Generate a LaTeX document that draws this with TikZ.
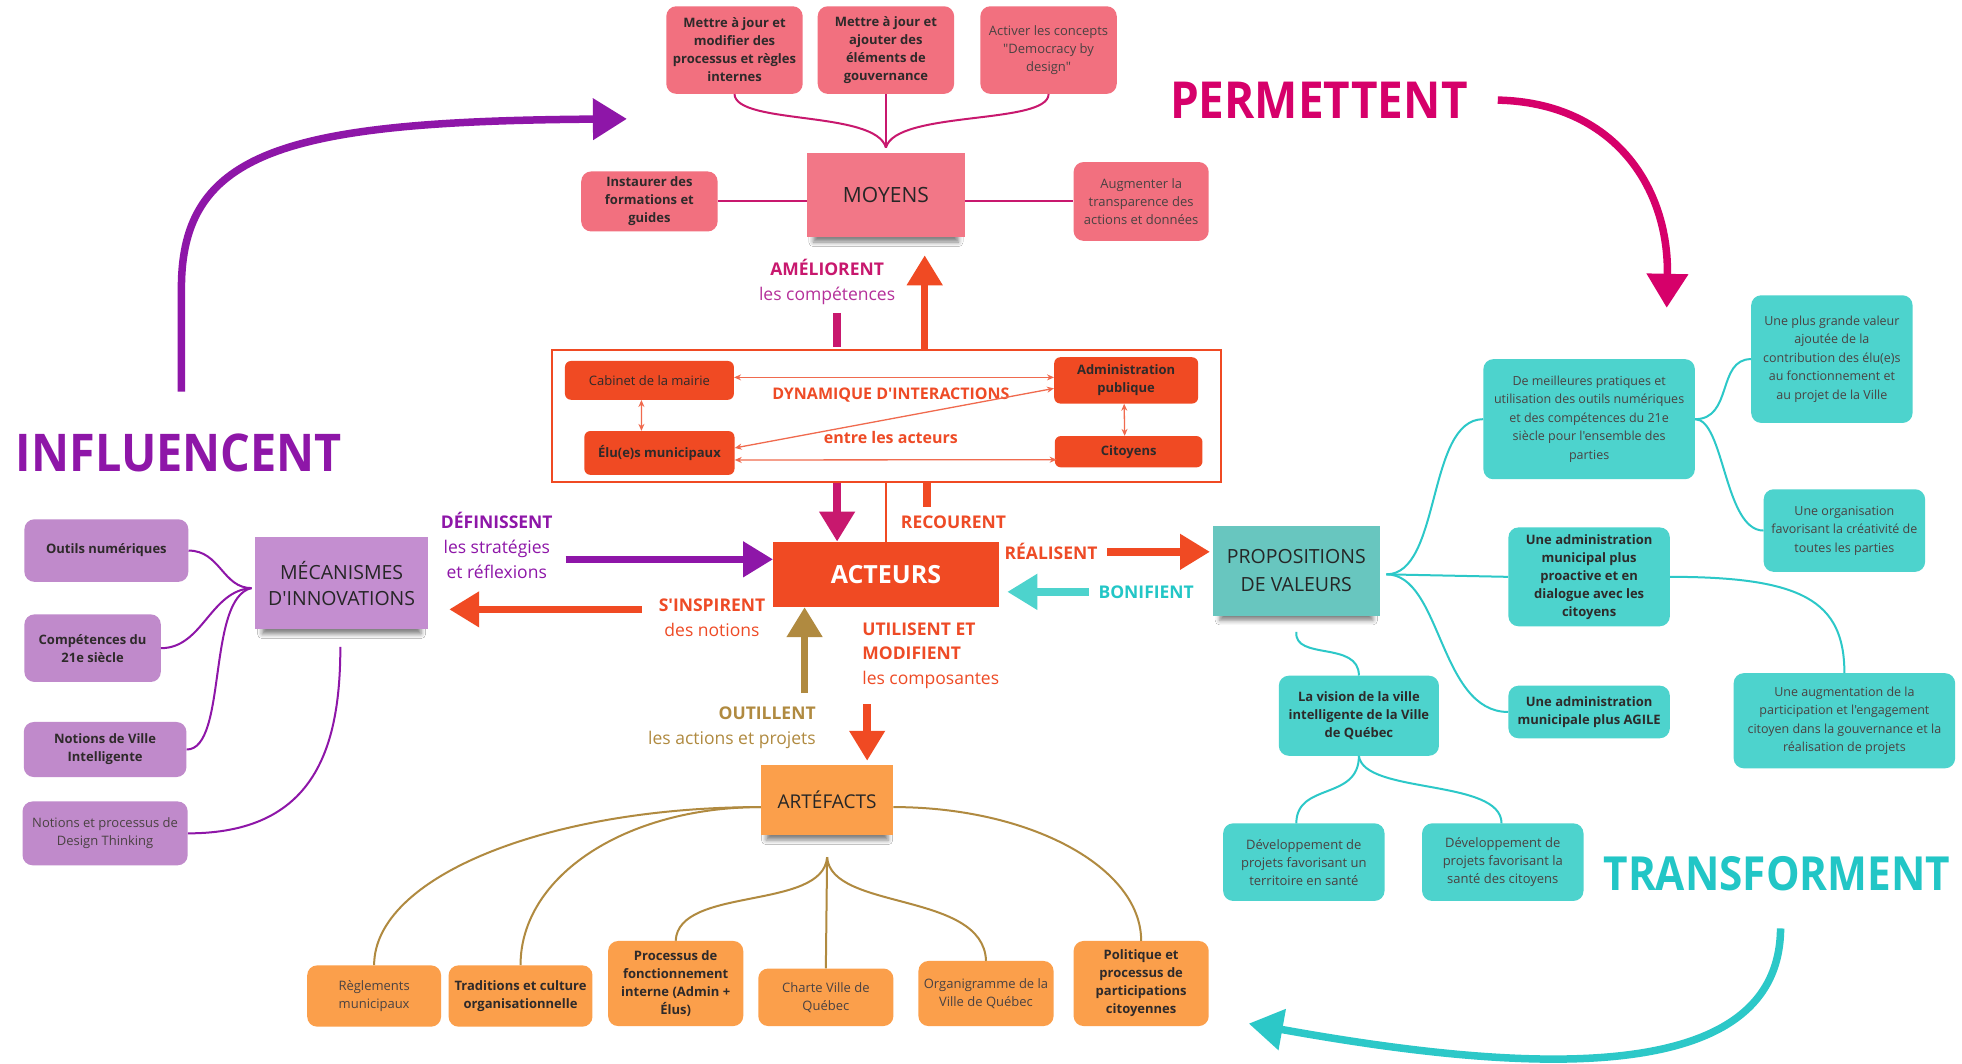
\documentclass[tikz,border=0pt]{standalone}
\usepackage{fontspec}
\setmainfont{Open Sans}[Ligatures=TeXOff]
\newfontfamily\bigfont{Open Sans}[Ligatures=TeXOff,FakeStretch=0.9]
\usetikzlibrary{arrows.meta,shadows.blur}
\definecolor{pinkbox}{HTML}{F2707F}
\definecolor{moyfill}{HTML}{F27787}
\definecolor{pinkline}{HTML}{C8186E}
\definecolor{redbox}{HTML}{F04A23}
\definecolor{redtxt}{HTML}{EE4B26}
\definecolor{salmon}{HTML}{F06A4E}
\definecolor{purpbox}{HTML}{C08ACB}
\definecolor{mecfill}{HTML}{C48ED0}
\definecolor{purpln}{HTML}{8E16A8}
\definecolor{orbox}{HTML}{FB9F4B}
\definecolor{brownln}{HTML}{B08A40}
\definecolor{tealbox}{HTML}{4DD3CD}
\definecolor{propfill}{HTML}{68C6BF}
\definecolor{tealln}{HTML}{2CC8C8}
\definecolor{tealtxt}{HTML}{22C6C6}
\definecolor{magen}{HTML}{D6006A}
\definecolor{compc}{HTML}{B5309A}
\definecolor{txt}{HTML}{2E2A2A}
\definecolor{txtl}{HTML}{4A4242}
\tikzset{
  base/.style={align=center, inner sep=1pt, font=\fontsize{13}{18}\selectfont, text=txtl},
  bf/.style={font=\fontsize{13}{18}\selectfont\bfseries, text=txt},
  rbox/.style={base, rounded corners=10pt},
  sz/.style 2 args={minimum width=#1*1.2513pt, minimum height=#2*1.2513pt},
  sticky/.style={base, font=\fontsize{21}{27}\selectfont, text=black!85,
    blur shadow={shadow xshift=0pt, shadow yshift=-9pt, shadow scale=0.92, shadow blur radius=5pt, shadow opacity=50}},
  pb/.style={rbox, fill=pinkbox},
  rb/.style={base, rounded corners=6pt, fill=redbox},
  ub/.style={rbox, fill=purpbox},
  ob/.style={rbox, fill=orbox},
  tb/.style={rbox, fill=tealbox},
  con/.style={line width=2pt},
  thin2/.style={line width=1.3pt, salmon, {Stealth[length=7pt,width=6pt]}-{Stealth[length=7pt,width=6pt]}},
  harr/.style={line width=7.5pt, -{Triangle[width=34pt,length=30pt]}},
  carr/.style={line width=7.5pt, -{Triangle[width=40pt,length=34pt]}},
  lab/.style={inner sep=0pt, align=center, font=\fontsize{17.5}{25}\selectfont},
  big/.style={inner sep=0pt, font=\fontsize{51}{51}\bigfont\bfseries},
}
\begin{document}
\begin{tikzpicture}[x=1.2513pt,y=-1.2513pt]
\fill[white] (0,0) rectangle (1568,850);
\useasboundingbox (0,0) rectangle (1568,850);

% ---------------- MOYENS group
\node[pb, bf, sz={109}{70}] (b1) at (587,40) {Mettre à jour et\\modifier des\\processus et règles\\internes};
\node[pb, bf, sz={109}{70}] (b2) at (708,40) {Mettre à jour et\\ajouter des\\éléments de\\gouvernance};
\node[pb, sz={109}{70}] (b3) at (838,40) {Activer les concepts\\"Democracy by\\design"};
\node[sticky, fill=moyfill, sz={126}{67}] (moy) at (708,156) {MOYENS};
\node[pb, bf, sz={109}{48}] (ins) at (519,161) {Instaurer des\\formations et\\guides};
\node[pb, sz={108}{63}] (aug) at (912,161) {Augmenter la\\transparence des\\actions et données};
\coordinate (mj) at (708,118);
\draw[con, pinkline] (b1.south) .. controls (588,100) and (700,88) .. (mj);
\draw[con, pinkline] (b3.south) .. controls (838,100) and (716,88) .. (mj);
\draw[con, pinkline] (b2.south) -- (mj);
\draw[con, pinkline] (ins.east) -- (ins.east -| moy.west);
\draw[con, pinkline] (aug.west -| moy.east) -- (aug.west);

% ---------------- DYNAMIQUE frame
\node[draw=redbox, line width=2.2pt, sz={535}{105}, inner sep=0pt] (dyn) at (708.5,332.5) {};
\node[rb, text=txt, sz={135}{31}] (cab) at (519,304) {Cabinet de la mairie};
\node[rb, bf, sz={115}{37}] (adm) at (900,304) {Administration\\publique};
\node[rb, bf, sz={120}{35}] (elu) at (527,362) {Élu(e)s municipaux};
\node[rb, bf, sz={118}{25}] (cit) at (902,361) {Citoyens};
\node[lab, text=redtxt, font=\fontsize{16}{20}\selectfont\bfseries] (dyl) at (712,316) {DYNAMIQUE D'INTERACTIONS};
\node[lab, text=redtxt, font=\fontsize{16}{20}\selectfont\bfseries] (ent) at (712,350) {entre les acteurs};
\draw[thin2] ([yshift=3pt]cab.east) -- ([yshift=3pt]adm.west);
\draw[thin2] ([yshift=5pt]elu.east) -- ([yshift=-8pt]adm.west);
\draw[thin2] ([yshift=-7pt]elu.east) -- ([yshift=-8pt,xshift=2pt]cit.west);
\draw[thin2] ([xshift=-8pt]cab.south) -- ([xshift=-18pt]elu.north);
\draw[thin2] ([xshift=-2pt]adm.south) -- ([xshift=-4pt]cit.north);

% ---------------- ACTEURS
\node[base, fill=redbox, text=white, font=\fontsize{25}{30}\selectfont\bfseries, sz={180}{52}] (act) at (708,459) {ACTEURS};

% AMÉLIORENT
\node[lab] (aml) at (661,225.5) {\textcolor{pinkline}{\bfseries AMÉLIORENT}\\\textcolor{compc}{les compétences}};
\coordinate (am1) at (669,250);
\coordinate (am2) at (669,277);
\draw[line width=7.5pt, pinkline] (am1) -- (am2);
\coordinate (am3) at (669,386);
\draw[harr, pinkline] (am3) -- (am3 |- act.north);
\coordinate (ru1) at (739,279);
\coordinate (ru2) at (739,204);
\draw[harr, redbox] (ru1) -- (ru2);
% RECOURENT
\coordinate (rc1) at (741,386);
\coordinate (rc2) at (741,405);
\draw[line width=7.5pt, redbox] (rc1) -- (rc2);
\coordinate (tl) at (708,386);
\draw[line width=2.5pt, redbox] (tl) -- (act.north);
\node[lab, text=redtxt, font=\fontsize{17.5}{22}\selectfont\bfseries] (rec) at (762,417) {RECOURENT};

% RÉALISENT / BONIFIENT
\node[lab, text=redtxt, font=\fontsize{17.5}{22}\selectfont\bfseries] (rea) at (840,441) {RÉALISENT};
\coordinate (re1) at (885,441);
\coordinate (re2) at (967,441);
\draw[harr, redbox] (re1) -- (re2);
\node[lab, text=tealtxt, font=\fontsize{17.5}{22}\selectfont\bfseries] (bon) at (916,473) {BONIFIENT};
\coordinate (bo1) at (870,473);
\coordinate (bo2) at (805,473);
\draw[harr, tealbox] (bo1) -- (bo2);

% DÉFINISSENT
\node[lab, text=purpln] (def) at (397,436) {{\bfseries DÉFINISSENT}\\les stratégies\\et réflexions};
\coordinate (de1) at (452,447);
\draw[harr, purpln] (de1) -- (de1 -| act.west);
% S'INSPIRENT
\node[lab, text=redtxt] (sin) at (569,494) {{\bfseries S'INSPIRENT}\\des notions};
\coordinate (si1) at (513,487);
\coordinate (si2) at (359,487);
\draw[harr, redbox] (si1) -- (si2);
% UTILISENT
\node[lab, text=redtxt, align=left, anchor=west, font=\fontsize{17.5}{24.5}\selectfont] (uti) at (689,524) {{\bfseries UTILISENT ET}\\{\bfseries MODIFIENT}\\les composantes};
\coordinate (ut1) at (693,563);
\coordinate (ut2) at (693,608);
\draw[harr, redbox] (ut1) -- (ut2);
% OUTILLENT
\node[lab, text=brownln, align=right, anchor=east] (out) at (652,582) {{\bfseries OUTILLENT}\\les actions et projets};
\coordinate (ou1) at (643,554);
\draw[harr, brownln] (ou1) -- (ou1 |- act.south);

% ---------------- MÉCANISMES
\node[sticky, fill=mecfill, font=\fontsize{19.5}{26}\selectfont, sz={138}{74}] (mec) at (273,466) {MÉCANISMES\\D'INNOVATIONS};
\node[ub, bf, sz={131}{50}] (outils) at (85,440) {Outils numériques};
\node[ub, bf, sz={109}{54}] (comp) at (74,518) {Compétences du\\21e siècle};
\node[ub, bf, sz={130}{44}] (ville) at (84,599) {Notions de Ville\\Intelligente};
\node[ub, sz={132}{51}] (design) at (84,666) {Notions et processus de\\Design Thinking};
\coordinate (J) at (201,470);
\coordinate (mecb) at (272,517);
\draw[con, purpln] (outils.east) .. controls (176,440) and (178,470) .. (J);
\draw[con, purpln] (comp.east) .. controls (162,518) and (168,472) .. (J);
\draw[con, purpln] (ville.east) .. controls (182,599) and (165,478) .. (J);
\draw[con, purpln] (design.east) .. controls (250,666) and (272,600) .. (mecb);

% ---------------- ARTÉFACTS
\node[sticky, fill=orbox, font=\fontsize{19}{24}\selectfont, sz={106}{56}] (art) at (661,639) {ARTÉFACTS};
\node[ob, sz={107}{49}] (regl) at (299,796) {Règlements\\municipaux};
\node[ob, bf, sz={115}{49}] (trad) at (416,796) {Traditions et culture\\organisationnelle};
\node[ob, bf, sz={108}{68}] (proc) at (540,786) {Processus de\\fonctionnement\\interne (Admin +\\Élus)};
\node[ob, sz={108}{46}] (charte) at (660,797) {Charte Ville de\\Québec};
\node[ob, sz={108}{52}] (organ) at (788,794) {Organigramme de la\\Ville de Québec};
\node[ob, bf, sz={108}{68}] (polit) at (912,786) {Politique et\\processus de\\participations\\citoyennes};
\coordinate (AL) at (608,645);
\coordinate (AR) at (714,645);
\coordinate (F) at (661,685);
\draw[con, brownln] (AL) .. controls (437,645) and (299,701) .. (regl.north);
\draw[con, brownln] (AL) .. controls (500,645) and (416,700) .. (trad.north);
\draw[con, brownln] (AR) .. controls (823,645) and (912,693) .. (polit.north);
\draw[con, brownln] (F) .. controls (658,728) and (542,708) .. (proc.north);
\draw[con, brownln] (F) -- (charte.north);
\draw[con, brownln] (F) .. controls (664,728) and (786,712) .. (organ.north);

% ---------------- PROPOSITIONS
\node[sticky, fill=propfill, font=\fontsize{19.5}{28}\selectfont, sz={133}{72}] (prop) at (1036,456) {PROPOSITIONS\\DE VALEURS};
\node[tb, font=\fontsize{12.5}{18.5}\selectfont, sz={169}{96}] (meil) at (1270,335) {De meilleures pratiques et\\utilisation des outils numériques\\et des compétences du 21e\\siècle pour l'ensemble des\\parties};
\node[tb, font=\fontsize{12.5}{18.5}\selectfont, sz={129}{102}] (plus) at (1464,287) {Une plus grande valeur\\ajoutée de la\\contribution des élu(e)s\\au fonctionnement et\\au projet de la Ville};
\node[tb, font=\fontsize{12.5}{18.5}\selectfont, sz={129}{66}] (orga) at (1474,424) {Une organisation\\favorisant la créativité de\\toutes les parties};
\node[tb, bf, sz={129}{79}] (proact) at (1270,461) {Une administration\\municipal plus\\proactive et en\\dialogue avec les\\citoyens};
\node[tb, bf, sz={129}{42}] (agile) at (1270,569) {Une administration\\municipale plus AGILE};
\node[tb, font=\fontsize{12.5}{18.5}\selectfont, sz={177}{76}] (augm) at (1474,576) {Une augmentation de la\\participation et l'engagement\\citoyen dans la gouvernance et la\\réalisation de projets};
\node[tb, bf, sz={128}{64}] (vision) at (1086,572) {La vision de la ville\\intelligente de la Ville\\de Québec};
\node[tb, sz={129}{62}] (dev1) at (1042,689) {Développement de\\projets favorisant un\\territoire en santé};
\node[tb, sz={129}{62}] (dev2) at (1201,689) {Développement de\\projets favorisant la\\santé des citoyens};
\coordinate (P) at (1108,459);
\coordinate (PB) at (1036,505);
\coordinate (d1t) at (1036,658);
\coordinate (d2t) at (1200,658);
\draw[con, tealln] (P) .. controls (1152,459) and (1140,335) .. (meil.west);
\draw[con, tealln] (P) -- (proact.west);
\draw[con, tealln] (P) .. controls (1152,459) and (1150,569) .. (agile.west);
\draw[con, tealln] (meil.east) .. controls (1385,335) and (1372,287) .. (plus.west);
\draw[con, tealln] (meil.east) .. controls (1378,335) and (1378,424) .. (orga.west);
\draw[con, tealln] (proact.east) .. controls (1440,461) and (1474,480) .. (augm.north);
\draw[con, tealln] (PB) .. controls (1034,528) and (1086,512) .. (vision.north);
\draw[con, tealln] (vision.south) .. controls (1086,640) and (1036,625) .. (d1t);
\draw[con, tealln] (vision.south) .. controls (1090,635) and (1200,622) .. (d2t);

% ---------------- big words & curved arrows
\node[big, text=magen] (perm) at (1054,80) {PERMETTENT};
\node[big, text=purpln, font=\fontsize{52}{52}\bigfont\bfseries] (infl) at (143,362) {INFLUENCENT};
\node[big, text=tealtxt, font=\fontsize{47}{47}\bigfont\bfseries] (trans) at (1420,698) {TRANSFORMENT};
\coordinate (i1) at (145,313);
\coordinate (i2) at (501,95);
\draw[carr, purpln] (i1) -- (145,230) .. controls (145,120) and (230,97) .. (i2);
\coordinate (p1) at (1197,80);
\coordinate (p2) at (1332,246);
\draw[carr, magen] (p1) .. controls (1290,82) and (1334,150) .. (p2);
\coordinate (t1) at (1423,742);
\coordinate (t2) at (998,818);
\draw[carr, tealln] (t1) .. controls (1422,870) and (1220,858) .. (t2);
\end{tikzpicture}
\end{document}
